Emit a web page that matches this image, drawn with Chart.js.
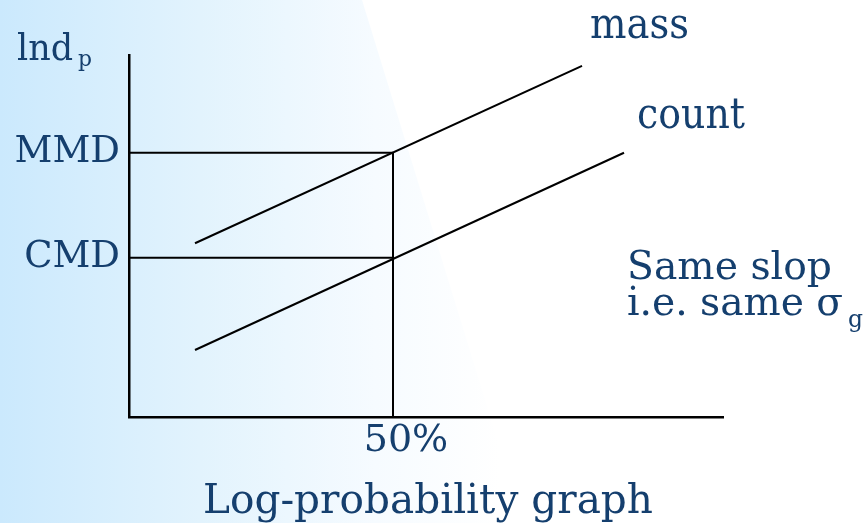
<!DOCTYPE html>
<html>
<head>
    <script src="https://cdn.jsdelivr.net/npm/chart.js@4.4.0/dist/chart.umd.min.js"></script>
    <style>
        body {
            margin: 0;
            background: #fff;
        }
        #wrap {
            width: 866px;
            height: 523px;
        }
    </style>
</head>
<body>
    <div id="wrap"><canvas id="logChart" width="866" height="523"></canvas></div>

    <script>
        // data (x = cumulative %, y = ln dp, arbitrary units)
        const massX = [12.5, 85.8];
        const massY = [4.8, 9.7];
        const countX = [12.5, 93.75];
        const countY = [1.85, 7.3];

        const yTickValues = [7.3, 4.4];
        const yTickLabels = ['MMD', 'CMD'];
        const xTickValues = [50];
        const xTickLabels = ['50%'];

        const navy = '#153f6e';
        const serif = "'DejaVu Serif', 'Liberation Serif', serif";

        function pts(xs, ys) {
            return xs.map((x, i) => ({ x: x, y: ys[i] }));
        }

        // text squeezed to a given width
        function fitText(ctx, text, x, y, size, width) {
            ctx.save();
            ctx.font = size + 'px ' + serif;
            const w = ctx.measureText(text).width;
            ctx.translate(x, y);
            ctx.scale(width / w, 1);
            ctx.fillText(text, 0, 0);
            ctx.restore();
        }

        const backdrop = {
            id: 'backdrop',
            beforeDraw(chart) {
                const ctx = chart.ctx;
                ctx.save();
                ctx.fillStyle = '#fff';
                ctx.fillRect(0, 0, chart.width, chart.height);
                const g = ctx.createLinearGradient(0, 0, 500, 0);
                g.addColorStop(0, '#cbe9fd');
                g.addColorStop(0.4, '#e2f3fd');
                g.addColorStop(0.75, '#f6fbff');
                g.addColorStop(1, '#ffffff');
                ctx.fillStyle = g;
                ctx.beginPath();
                ctx.moveTo(0, 0);
                ctx.lineTo(362, 0);
                ctx.lineTo(523, chart.height);
                ctx.lineTo(0, chart.height);
                ctx.closePath();
                ctx.fill();
                ctx.restore();
            }
        };

        const labels = {
            id: 'labels',
            afterDraw(chart) {
                const ctx = chart.ctx;
                const a = chart.chartArea;
                ctx.save();
                ctx.fillStyle = navy;
                ctx.textBaseline = 'alphabetic';

                // y axis name
                fitText(ctx, 'lnd', 17, 60, 38, 56);
                fitText(ctx, 'p', 78, 66, 22, 14);

                // line names at the upper ends
                chart.data.datasets.forEach((ds, i) => {
                    if (!ds.tag) return;
                    const el = chart.getDatasetMeta(i).data[1];
                    if (ds.tag === 'mass') fitText(ctx, ds.label, el.x + 8, el.y - 28, 42, 99);
                    if (ds.tag === 'count') fitText(ctx, ds.label, el.x + 13, el.y - 25, 42, 108);
                });

                // note
                fitText(ctx, 'Same slop', a.right - 96, 279, 40, 205);
                fitText(ctx, 'i.e. same \u03c3', a.right - 96, 315, 40, 216);
                fitText(ctx, 'g', a.right + 125, 327, 24, 15);

                // caption
                fitText(ctx, 'Log-probability graph', 203, 513, 41, 450);
                ctx.restore();
            }
        };

        const guide = { borderColor: '#000', borderWidth: 2, pointRadius: 0, showLine: true, fill: false };

        new Chart(document.getElementById('logChart'), {
            type: 'scatter',
            data: {
                datasets: [
                    Object.assign({ label: 'mass', tag: 'mass', data: pts(massX, massY) }, guide),
                    Object.assign({ label: 'count', tag: 'count', data: pts(countX, countY) }, guide),
                    Object.assign({ label: 'MMD', data: [{ x: 0, y: yTickValues[0] }, { x: xTickValues[0], y: yTickValues[0] }] }, guide),
                    Object.assign({ label: 'CMD', data: [{ x: 0, y: yTickValues[1] }, { x: xTickValues[0], y: yTickValues[1] }] }, guide),
                    Object.assign({ label: '50%', data: [{ x: xTickValues[0], y: 0 }, { x: xTickValues[0], y: yTickValues[0] }] }, guide)
                ]
            },
            options: {
                responsive: false,
                animation: false,
                layout: { padding: { top: 55, right: 143, left: 0, bottom: 0 } },
                plugins: { legend: { display: false }, tooltip: { enabled: false } },
                scales: {
                    x: {
                        type: 'linear',
                        min: 0,
                        max: 112.5,
                        grid: { display: false, drawTicks: false },
                        border: { display: true, color: '#000', width: 2.5 },
                        afterBuildTicks(s) { s.ticks = xTickValues.map(v => ({ value: v })); },
                        afterFit(s) { s.height = 106; },
                        ticks: {
                            padding: 1,
                            labelOffset: 13,
                            color: navy,
                            font: { family: serif, size: 38 },
                            callback: (v, i) => xTickLabels[i]
                        }
                    },
                    y: {
                        type: 'linear',
                        min: 0,
                        max: 10,
                        grid: { display: false, drawTicks: false },
                        border: { display: true, color: '#000', width: 2.5 },
                        afterBuildTicks(s) { s.ticks = yTickValues.map(v => ({ value: v })); },
                        afterFit(s) { s.width = 129; },
                        ticks: {
                            padding: 9,
                            color: navy,
                            font: { family: serif, size: 37 },
                            callback: (v, i) => yTickLabels[i]
                        }
                    }
                }
            },
            plugins: [backdrop, labels]
        });
    </script>
</body>
</html>
